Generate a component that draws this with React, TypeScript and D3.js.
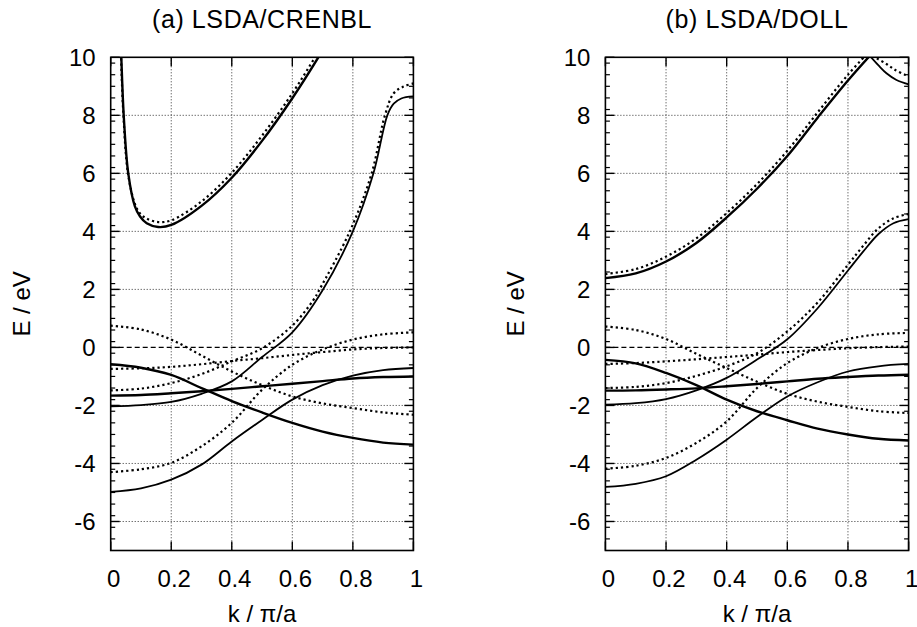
import React from 'react';
import * as d3 from 'd3';

// ---------- axis ticks ----------
const xTicks = [0, 0.2, 0.4, 0.6, 0.8, 1];
const xTickLabels = ['0', '0.2', '0.4', '0.6', '0.8', '1'];
const yTicks = [-6, -4, -2, 0, 2, 4, 6, 8, 10];
const yTickLabels = ['-6', '-4', '-2', '0', '2', '4', '6', '8', '10'];
const yDomain = [-7, 10];

// common k grid (k / pi/a)
const kGrid = [0, 0.1, 0.2, 0.3, 0.4, 0.5, 0.6, 0.7, 0.8, 0.9, 1.0];

// ---------- panel (a) LSDA/CRENBL ----------
const aTopK = [0.033, 0.035, 0.043, 0.058, 0.08, 0.097, 0.119, 0.157, 0.2, 0.3, 0.4, 0.5, 0.6, 0.686, 0.72];
const aTopE = [10.5, 10.0, 8.0, 6.0, 4.86, 4.51, 4.28, 4.15, 4.22, 4.88, 5.85, 7.12, 8.59, 10.0, 10.6];
const aTopDnK = [0.032, 0.034, 0.042, 0.057, 0.08, 0.097, 0.119, 0.157, 0.2, 0.3, 0.4, 0.5, 0.6, 0.675, 0.71];
const aTopDnE = [10.5, 10.0, 8.0, 6.0, 4.95, 4.62, 4.44, 4.32, 4.38, 5.03, 6.02, 7.3, 8.76, 10.0, 10.6];
const aRiseK = [0, 0.1, 0.2, 0.3, 0.4, 0.5, 0.6, 0.7, 0.8, 0.868, 0.914, 0.935, 0.96, 1.0];
const aRiseE = [-2.03, -1.99, -1.88, -1.6, -1.17, -0.33, 0.52, 1.97, 4.0, 6.0, 8.0, 8.4, 8.58, 8.65];
const aRiseDnK = [0, 0.1, 0.2, 0.3, 0.4, 0.5, 0.6, 0.67, 0.69, 0.79, 0.862, 0.906, 0.935, 0.967, 1.0];
const aRiseDnE = [-1.48, -1.42, -1.23, -0.92, -0.48, -0.03, 0.75, 1.64, 2.0, 4.0, 6.0, 8.0, 8.76, 8.99, 9.1];
const aFallE = [-0.58, -0.7, -0.95, -1.4, -1.85, -2.24, -2.6, -2.9, -3.12, -3.28, -3.35];
const aFallDnE = [0.75, 0.62, 0.27, -0.28, -0.83, -1.3, -1.69, -1.93, -2.09, -2.24, -2.32];
const aFlatE = [-1.66, -1.64, -1.58, -1.51, -1.43, -1.34, -1.25, -1.16, -1.07, -1.02, -1.0];
const aFlatDnE = [-0.74, -0.72, -0.67, -0.58, -0.47, -0.37, -0.26, -0.16, -0.07, -0.02, 0.0];
const aLowE = [-4.98, -4.86, -4.56, -4.04, -3.24, -2.5, -1.8, -1.3, -0.97, -0.78, -0.71];
const aLowDnE = [-4.3, -4.2, -3.98, -3.41, -2.6, -1.46, -0.6, -0.07, 0.27, 0.45, 0.52];

// ---------- panel (b) LSDA/DOLL ----------
const bTopK = [0, 0.1, 0.2, 0.3, 0.4, 0.5, 0.6, 0.7, 0.8, 0.872];
const bTopE = [2.39, 2.55, 2.96, 3.6, 4.48, 5.47, 6.6, 7.92, 9.2, 10.05];
const bTopDnK = [0, 0.1, 0.2, 0.3, 0.4, 0.5, 0.6, 0.7, 0.8, 0.87];
const bTopDnE = [2.53, 2.7, 3.13, 3.76, 4.63, 5.63, 6.78, 8.1, 9.4, 10.2];
const bCapK = [0.872, 0.9, 0.927, 0.96, 1.0];
const bCapE = [10.05, 9.73, 9.45, 9.22, 9.07];
const bCapDnK = [0.87, 0.89, 0.927, 0.955, 0.988, 1.0];
const bCapDnE = [10.2, 10.0, 9.77, 9.57, 9.4, 9.36];
const bRiseK = [0, 0.1, 0.2, 0.3, 0.4, 0.5, 0.6, 0.7, 0.8, 0.85, 0.9, 0.95, 1.0];
const bRiseE = [-1.97, -1.92, -1.78, -1.48, -1.05, -0.42, 0.28, 1.35, 2.65, 3.3, 3.9, 4.28, 4.42];
const bRiseDnE = [-1.4, -1.36, -1.23, -0.98, -0.65, -0.2, 0.55, 1.55, 2.85, 3.5, 4.1, 4.45, 4.6];
const bFallE = [-0.43, -0.55, -0.88, -1.3, -1.8, -2.2, -2.51, -2.8, -3.0, -3.15, -3.21];
const bFallDnE = [0.72, 0.6, 0.29, -0.22, -0.71, -1.18, -1.6, -1.87, -2.05, -2.2, -2.26];
const bFlatE = [-1.49, -1.48, -1.45, -1.41, -1.34, -1.26, -1.17, -1.08, -1.02, -0.97, -0.94];
const bFlatDnE = [-0.57, -0.54, -0.48, -0.41, -0.33, -0.25, -0.16, -0.09, -0.03, 0.01, 0.03];
const bLowE = [-4.81, -4.7, -4.44, -3.87, -3.18, -2.4, -1.69, -1.2, -0.83, -0.65, -0.57];
const bLowDnE = [-4.18, -4.08, -3.81, -3.29, -2.55, -1.4, -0.54, -0.02, 0.29, 0.45, 0.5];

type Band = { k: number[]; e: number[]; style: 'thick' | 'thin' | 'dot' };

const bandsA: Band[] = [
  { k: aTopDnK, e: aTopDnE, style: 'dot' },
  { k: aTopK, e: aTopE, style: 'thick' },
  { k: aRiseDnK, e: aRiseDnE, style: 'dot' },
  { k: aRiseK, e: aRiseE, style: 'thin' },
  { k: kGrid, e: aFallDnE, style: 'dot' },
  { k: kGrid, e: aFallE, style: 'thick' },
  { k: kGrid, e: aFlatDnE, style: 'dot' },
  { k: kGrid, e: aFlatE, style: 'thick' },
  { k: kGrid, e: aLowDnE, style: 'dot' },
  { k: kGrid, e: aLowE, style: 'thin' },
];

const bandsB: Band[] = [
  { k: bTopDnK, e: bTopDnE, style: 'dot' },
  { k: bTopK, e: bTopE, style: 'thick' },
  { k: bCapDnK, e: bCapDnE, style: 'dot' },
  { k: bCapK, e: bCapE, style: 'thin' },
  { k: bRiseK, e: bRiseDnE, style: 'dot' },
  { k: bRiseK, e: bRiseE, style: 'thin' },
  { k: kGrid, e: bFallDnE, style: 'dot' },
  { k: kGrid, e: bFallE, style: 'thick' },
  { k: kGrid, e: bFlatDnE, style: 'dot' },
  { k: kGrid, e: bFlatE, style: 'thick' },
  { k: kGrid, e: bLowDnE, style: 'dot' },
  { k: kGrid, e: bLowE, style: 'thin' },
];

const FONT = "'Liberation Sans', Arial, Helvetica, sans-serif";
const Y_TOP = 57.3;
const Y_BOT = 550.5;

function Panel({ id, x0, x1, title, bands }: { id: string; x0: number; x1: number; title: string; bands: Band[] }) {
  const xs = d3.scaleLinear().domain([0, 1]).range([x0, x1]);
  const ys = d3.scaleLinear().domain(yDomain).range([Y_BOT, Y_TOP]);
  const line = d3
    .line<[number, number]>()
    .x((d) => xs(d[0]))
    .y((d) => ys(d[1]))
    .curve(d3.curveCatmullRom.alpha(0.5));
  const minor = d3
    .range(-7, 10.001, 0.4)
    .map((v) => Math.round(v * 10) / 10)
    .filter((v) => v > -7 && v < 10 && Math.abs(v / 2 - Math.round(v / 2)) > 1e-6);
  const cx = (x0 + x1) / 2;
  const cy = (Y_TOP + Y_BOT) / 2;
  return (
    <g>
      <defs>
        <clipPath id={id}>
          <rect x={x0} y={Y_TOP} width={x1 - x0} height={Y_BOT - Y_TOP} />
        </clipPath>
      </defs>
      {/* grid */}
      {xTicks.slice(1, -1).map((t) => (
        <line key={'gx' + t} x1={xs(t)} x2={xs(t)} y1={Y_TOP} y2={Y_BOT} stroke="#333" strokeWidth={1} strokeDasharray="1,2" />
      ))}
      {yTicks.filter((t) => t !== 0 && t !== 10).map((t) => (
        <line key={'gy' + t} x1={x0} x2={x1} y1={ys(t)} y2={ys(t)} stroke="#333" strokeWidth={1} strokeDasharray="1,2" />
      ))}
      {/* Fermi level */}
      <line x1={x0} x2={x1} y1={ys(0)} y2={ys(0)} stroke="#000" strokeWidth={1.3} strokeDasharray="5,3" />
      {/* bands */}
      <g clipPath={`url(#${id})`}>
        {bands.map((b, i) => {
          const pts = b.k.map((k, j) => [k, b.e[j]] as [number, number]);
          const common = { d: line(pts) || '', fill: 'none', stroke: '#000' };
          if (b.style === 'dot') return <path key={i} {...common} strokeWidth={2.2} strokeDasharray="2.2,3" />;
          return <path key={i} {...common} strokeWidth={b.style === 'thick' ? 2.4 : 1.8} strokeLinejoin="round" />;
        })}
      </g>
      {/* frame */}
      <rect x={x0} y={Y_TOP} width={x1 - x0} height={Y_BOT - Y_TOP} fill="none" stroke="#000" strokeWidth={1.6} />
      {/* ticks */}
      {xTicks.map((t) => (
        <g key={'tx' + t}>
          <line x1={xs(t)} x2={xs(t)} y1={Y_BOT} y2={Y_BOT - 9} stroke="#000" strokeWidth={1.4} />
          <line x1={xs(t)} x2={xs(t)} y1={Y_TOP} y2={Y_TOP + 9} stroke="#000" strokeWidth={1.4} />
        </g>
      ))}
      {yTicks.map((t) => (
        <g key={'ty' + t}>
          <line x1={x0} x2={x0 + 9} y1={ys(t)} y2={ys(t)} stroke="#000" strokeWidth={1.4} />
          <line x1={x1} x2={x1 - 9} y1={ys(t)} y2={ys(t)} stroke="#000" strokeWidth={1.4} />
        </g>
      ))}
      {minor.map((t) => (
        <g key={'tm' + t}>
          <line x1={x0} x2={x0 + 4.5} y1={ys(t)} y2={ys(t)} stroke="#000" strokeWidth={1.2} />
          <line x1={x1} x2={x1 - 4.5} y1={ys(t)} y2={ys(t)} stroke="#000" strokeWidth={1.2} />
        </g>
      ))}
      {/* tick labels */}
      {xTicks.map((t, i) => (
        <text key={'lx' + t} x={xs(t) + 3} y={586.5} textAnchor="middle" fontFamily={FONT} fontSize={24} fill="#000">
          {xTickLabels[i]}
        </text>
      ))}
      {yTicks.map((t, i) => (
        <text key={'ly' + t} x={x0 - 15} y={ys(t)} dy="0.35em" textAnchor="end" fontFamily={FONT} fontSize={24} fill="#000">
          {yTickLabels[i]}
        </text>
      ))}
      {/* axis titles */}
      <text x={cx} y={622} textAnchor="middle" fontFamily={FONT} fontSize={24} fill="#000">
        k / π/a
      </text>
      <text
        transform={`translate(${x0 - 81},${cy}) rotate(-90)`}
        textAnchor="middle"
        fontFamily={FONT}
        fontSize={24}
        fill="#000"
      >
        E / eV
      </text>
      <text x={cx} y={28.3} textAnchor="middle" fontFamily={FONT} fontSize={25} letterSpacing={0.6} fill="#000">
        {title}
      </text>
    </g>
  );
}

export default function App() {
  return (
    <svg
      width={917}
      height={627}
      style={{ position: 'absolute', left: 0, top: 0, background: '#fff' }}
      xmlns="http://www.w3.org/2000/svg"
    >
      <rect x={0} y={0} width={917} height={627} fill="#fff" />
      <Panel id="clipA" x0={110.7} x1={413.4} title="(a) LSDA/CRENBL" bands={bandsA} />
      <Panel id="clipB" x0={605.4} x1={908.6} title="(b) LSDA/DOLL" bands={bandsB} />
    </svg>
  );
}
